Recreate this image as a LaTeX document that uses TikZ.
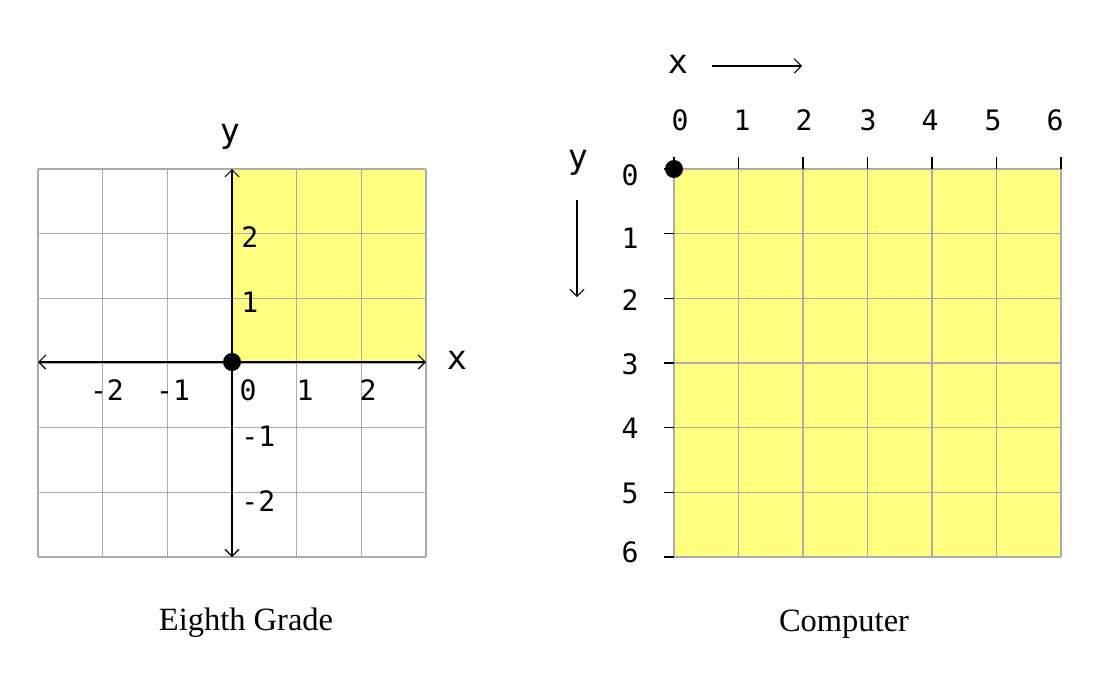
\documentclass[tikz,border=0pt]{standalone}
\usepackage{fontspec}
\setmainfont{Liberation Serif}
\setmonofont{DejaVu Sans Mono}
\usetikzlibrary{arrows.meta}
\definecolor{gridgray}{HTML}{ABABAB}
\definecolor{lemon}{HTML}{FFFF80}
\tikzset{
  gridln/.style={draw=gridgray,line width=0.6pt},
  tickln/.style={draw=black,line width=0.6pt},
  axis/.style={{Straight Barb[length=4pt,width=8pt]}-{Straight Barb[length=4pt,width=8pt]},
               line width=0.7pt},
  dirarr/.style={-{Straight Barb[length=4pt,width=8pt]},line width=0.6pt},
  dot/.style={circle,fill=black,inner sep=0pt,minimum size=0.36cm},
  num/.style={font=\ttfamily\fontsize{16}{18}\selectfont,inner sep=0pt},
  axlbl/.style={font=\ttfamily\fontsize{19}{22}\selectfont,inner sep=0pt},
  captxt/.style={font=\fontsize{18.5}{22}\selectfont,inner sep=0pt},
}
\begin{document}
\begin{tikzpicture}[x=0.02cm,y=-0.02cm]
  \useasboundingbox (0,0) rectangle (1100,700);

  % eighth grade plane
  \fill[lemon] (232,169) rectangle (426,362);
  \foreach \i in {0,...,6}{
    \draw[gridln] ({38+64.67*\i},169) -- ({38+64.67*\i},557);
    \draw[gridln] (38,{169+64.67*\i}) -- (426,{169+64.67*\i});
  }
  \coordinate (xl) at (38,362);
  \coordinate (xr) at (426,362);
  \coordinate (yt) at (232,169);
  \coordinate (yb) at (232,557);
  \draw[axis] (xl) -- (xr);
  \draw[axis] (yt) -- (yb);
  \node[dot] (org) at (232,362) {};
  \node[axlbl] (ylbl) at (230,137) {y};
  \node[axlbl] (xlbl) at (457,360) {x};
  \foreach \lx/\t [count=\k] in {107/-2,173/-1,248/0,305/1,368/2}
    \node[num] (xn\k) at (\lx,390) {\t};
  \foreach \ly/\t [count=\k] in {237/2,302/1,436/-1,501/-2}
    \node[num,anchor=west] (yn\k) at (241,\ly) {\t};
  \node[captxt] (grade) at (246,623) {Eighth Grade};

  % computer screen
  \fill[lemon] (674,169) rectangle (1061,557);
  \foreach \i in {0,...,6}{
    \draw[gridln] ({674+64.5*\i},169) -- ({674+64.5*\i},557);
    \draw[gridln] (674,{169+64.67*\i}) -- (1061,{169+64.67*\i});
    \draw[tickln] ({674+64.5*\i},157) -- ({674+64.5*\i},169);
    \draw[tickln] (664,{169+64.67*\i}) -- (674,{169+64.67*\i});
  }
  \foreach \lx [count=\k from 0] in {680,742,804,868,930,993,1055}
    \node[num] (cx\k) at (\lx,120) {\k};
  \foreach \ly [count=\k from 0] in {175,238,300,364,428,493,552}
    \node[num] (cy\k) at (630,\ly) {\k};
  \node[dot] (corner) at (674,169) {};
  \node[axlbl] (cxlbl) at (678,64) {x};
  \coordinate (xa) at (712,66);
  \coordinate (xb) at (802,66);
  \draw[dirarr] (xa) -- (xb);
  \node[axlbl] (cylbl) at (578,163) {y};
  \coordinate (ya) at (577,200);
  \coordinate (yb2) at (577,297);
  \draw[dirarr] (ya) -- (yb2);
  \node[captxt] (comp) at (844,624) {Computer};
\end{tikzpicture}
\end{document}
